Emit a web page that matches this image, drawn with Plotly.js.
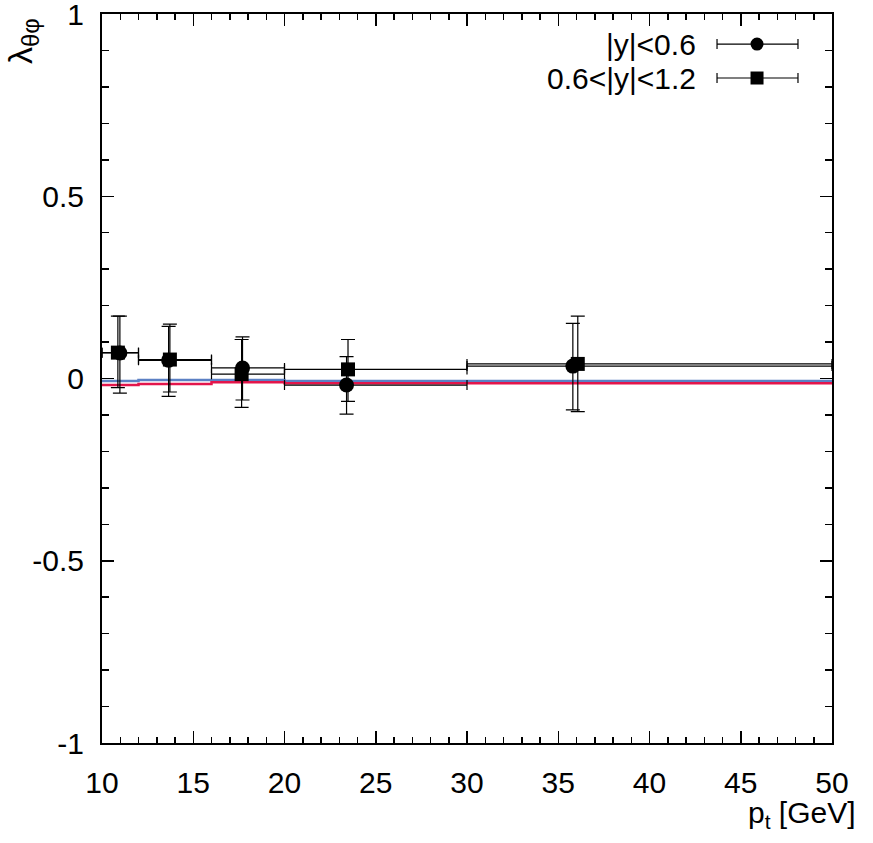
<!DOCTYPE html>
<html>
<head>
<meta charset="utf-8">
<script src="https://cdn.plot.ly/plotly-3.0.1.min.js"></script>
<style>
  html, body { margin: 0; padding: 0; background: #fff; }
  #plot { width: 873px; height: 843px; }
</style>
</head>
<body>
<div id="plot"></div>
<script>
// pt bins
var binLo = [10, 12, 16, 20, 30];
var binHi = [12, 16, 20, 30, 50];

// |y|<0.6 (circles)
var cenX = [10.98, 13.65, 17.70, 23.40, 35.80];
var cenY = [0.070, 0.050, 0.029, -0.018, 0.034];
var cenUp = [0.101, 0.093, 0.085, 0.078, 0.117];
var cenDown = [0.110, 0.099, 0.088, 0.080, 0.120];

// 0.6<|y|<1.2 (squares)
var fwdX = [10.87, 13.72, 17.65, 23.48, 36.07];
var fwdY = [0.071, 0.052, 0.012, 0.025, 0.040];
var fwdUp = [0.100, 0.097, 0.095, 0.082, 0.131];
var fwdDown = [0.096, 0.089, 0.091, 0.088, 0.131];

// model curves, one value per bin (last repeated to close the step)
var modelEdges = [10, 12, 16, 20, 30, 50];
var modelBlue = [-0.007, -0.004, -0.004, -0.007, -0.007, -0.007];
var modelRed = [-0.018, -0.015, -0.010, -0.013, -0.013, -0.013];

// axis ticks
var xTicks = [10, 15, 20, 25, 30, 35, 40, 45, 50];
var yTicks = [-1, -0.5, 0, 0.5, 1];
var yTickText = ['-1', '-0.5', '0', '0.5', '1'];

var legendNames = ['|y|<0.6', '0.6<|y|<1.2'];

var FONT = 'Liberation Sans, Arial, sans-serif';
var FSIZE = 30;

function xErr(xs) {
  return {
    type: 'data', symmetric: false,
    array: xs.map(function (x, i) { return binHi[i] - x; }),
    arrayminus: xs.map(function (x, i) { return x - binLo[i]; }),
    color: '#000', thickness: 1.2, width: 5
  };
}

function yErr(up, down) {
  return {
    type: 'data', symmetric: false,
    array: up, arrayminus: down,
    color: '#000', thickness: 1.2, width: 7
  };
}

var traces = [
  {
    x: modelEdges, y: modelBlue, type: 'scatter', mode: 'lines',
    line: { shape: 'hv', color: '#5b80c4', width: 2.5 },
    showlegend: false, hoverinfo: 'skip'
  },
  {
    x: modelEdges, y: modelRed, type: 'scatter', mode: 'lines',
    line: { shape: 'hv', color: '#e3154b', width: 2.5 },
    showlegend: false, hoverinfo: 'skip'
  },
  {
    x: cenX, y: cenY, type: 'scatter', mode: 'markers', name: legendNames[0],
    marker: { symbol: 'circle', size: 15, color: '#000' },
    error_x: xErr(cenX), error_y: yErr(cenUp, cenDown),
    showlegend: false
  },
  {
    x: fwdX, y: fwdY, type: 'scatter', mode: 'markers', name: legendNames[1],
    marker: { symbol: 'square', size: 14, color: '#000' },
    error_x: xErr(fwdX), error_y: yErr(fwdUp, fwdDown),
    showlegend: false
  }
];

// hand-drawn gnuplot style key: text right-aligned, then a bar with caps and a marker
var keyRows = [0.9588, 0.9122];
var keyText = 0.8164, keyL = 0.8425, keyR = 0.9534, keyM = 0.8973;
var shapes = [], annotations = [];
keyRows.forEach(function (ky, i) {
  annotations.push({
    xref: 'paper', yref: 'paper', x: keyText, y: ky,
    xanchor: 'right', yanchor: 'middle', showarrow: false,
    text: legendNames[i], font: { family: FONT, size: FSIZE, color: '#000' }
  });
  shapes.push({ type: 'line', xref: 'paper', yref: 'paper', x0: keyL, x1: keyR, y0: ky, y1: ky,
    line: { color: '#000', width: 1.2 } });
  [keyL, keyR].forEach(function (kx) {
    shapes.push({ type: 'line', xref: 'paper', yref: 'paper', xsizemode: 'scaled',
      ysizemode: 'pixel', yanchor: ky, x0: kx, x1: kx, y0: -5, y1: 5,
      line: { color: '#000', width: 1.2 } });
  });
  shapes.push({ type: i === 0 ? 'circle' : 'rect', xref: 'paper', yref: 'paper',
    xsizemode: 'pixel', ysizemode: 'pixel', xanchor: keyM, yanchor: ky,
    x0: -6.5, x1: 6.5, y0: -6.5, y1: 6.5,
    fillcolor: '#000', line: { color: '#000', width: 0 } });
});

annotations.push({
  xref: 'paper', yref: 'paper', x: -0.11, y: 0.997,
  xanchor: 'center', yanchor: 'top', textangle: -90, showarrow: false,
  text: 'λ<sub>θφ</sub>', font: { family: FONT, size: 34, color: '#000' }
});
annotations.push({
  xref: 'paper', yref: 'paper', x: 1.0356, y: -0.098,
  xanchor: 'right', yanchor: 'middle', showarrow: false,
  text: 'p<sub>t</sub> [GeV]', font: { family: FONT, size: FSIZE, color: '#000' }
});

var axisCommon = {
  showgrid: false, zeroline: false, showline: true, linecolor: '#000', linewidth: 2,
  mirror: 'ticks', ticks: 'inside', tickcolor: '#000', tickwidth: 1.5, ticklen: 12,
  ticklabeloverflow: 'allow',
  tickfont: { family: FONT, size: FSIZE, color: '#000' }
};

var layout = {
  width: 873, height: 843,
  margin: { l: 102, r: 41, t: 14, b: 100 },
  paper_bgcolor: '#fff', plot_bgcolor: '#fff',
  showlegend: false,
  xaxis: Object.assign({}, axisCommon, {
    range: [10, 50], tickmode: 'array', tickvals: xTicks,
    ticktext: xTicks.map(String), ticklabelstandoff: 12,
    minor: { dtick: 1, ticks: 'inside', ticklen: 6, tickcolor: '#000', tickwidth: 1.5 }
  }),
  yaxis: Object.assign({}, axisCommon, {
    range: [-1, 1], tickmode: 'array', tickvals: yTicks, ticktext: yTickText,
    ticklabelstandoff: 10,
    minor: { dtick: 0.1, ticks: 'inside', ticklen: 7, tickcolor: '#000', tickwidth: 1.5 }
  }),
  shapes: shapes,
  annotations: annotations
};

Plotly.newPlot('plot', traces, layout, { staticPlot: true });
</script>
</body>
</html>
